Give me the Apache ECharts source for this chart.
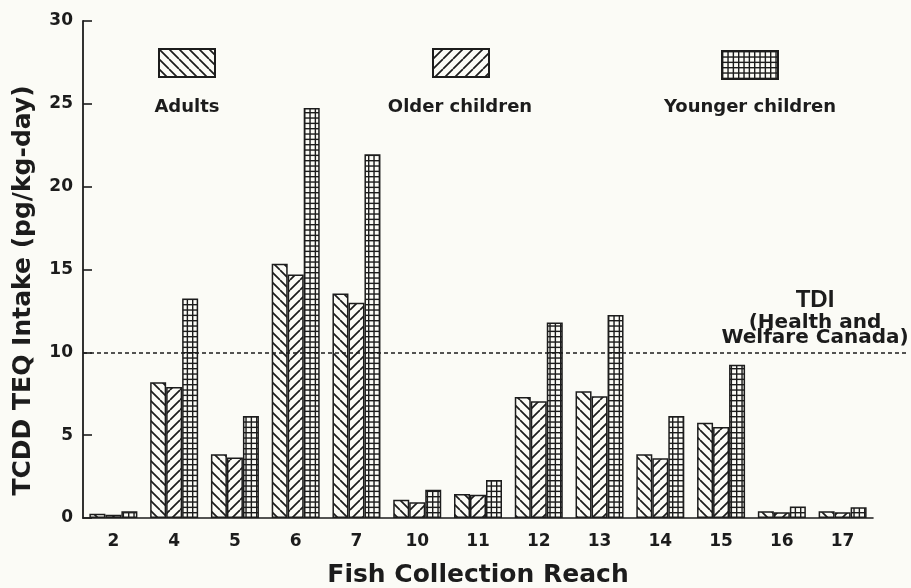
<!DOCTYPE html>
<html>
<head>
<meta charset="utf-8">
<script src="https://cdn.jsdelivr.net/npm/echarts@6/dist/echarts.min.js"></script>
<style>
  html, body { margin: 0; padding: 0; background: #fbfbf6; }
  #chart { width: 911px; height: 588px; }
</style>
</head>
<body>
<div id="chart"></div>
<script>
const reaches = ['2', '4', '5', '6', '7', '10', '11', '12', '13', '14', '15', '16', '17']
const adults = [0.25, 8.2, 3.85, 15.35, 13.55, 1.1, 1.45, 7.3, 7.65, 3.85, 5.75, 0.4, 0.4]
const olderChildren = [0.2, 7.9, 3.65, 14.7, 13.0, 0.95, 1.4, 7.05, 7.35, 3.6, 5.5, 0.35, 0.35]
const youngerChildren = [0.4, 13.25, 6.15, 24.75, 21.95, 1.7, 2.3, 11.8, 12.25, 6.15, 9.25, 0.7, 0.65]
const yMin = 0
const yMax = 30
const yStep = 5
const tdi = 10

const ink = '#1c1c1c'

// hatch fills: '\' for adults, '/' for older children, grid for younger children
function hatch(kind) {
  const c = document.createElement('canvas')
  const s = kind === 'grid' ? 16 : 10
  c.width = s
  c.height = s
  const g = c.getContext('2d')
  g.fillStyle = ink
  g.strokeStyle = ink
  if (kind === 'grid') {
    for (let i = 0; i < 3; i++) {
      const p = i * s / 3
      g.fillRect(p, 0, 1.4, s)
      g.fillRect(0, p, s, 1.4)
    }
    return { image: c, repeat: 'repeat' }
  }
  g.lineWidth = 1.7
  g.beginPath()
  for (let o = -s; o <= s; o += s) {
    if (kind === 'back') {
      g.moveTo(o, 0); g.lineTo(o + s, s)
    } else {
      g.moveTo(o + s, 0); g.lineTo(o, s)
    }
  }
  g.stroke()
  return { image: c, repeat: 'repeat' }
}

function barSeries(name, data, kind) {
  return {
    name: name,
    type: 'bar',
    data: data,
    barWidth: 16,
    barGap: '0%',
    itemStyle: { color: hatch(kind), borderColor: ink, borderWidth: 1.5 },
    emphasis: { disabled: true }
  }
}

function legendBox(name, left, top) {
  return {
    data: [name],
    left: left,
    top: top,
    padding: 0,
    itemWidth: 56,
    itemHeight: 28,
    icon: 'rect',
    selectedMode: false,
    formatter: function () { return '' }
  }
}

function legendText(text, x, y) {
  return {
    type: 'text',
    x: x,
    y: y,
    style: {
      text: text,
      font: 'bold 18px "DejaVu Sans"',
      fill: ink,
      textAlign: 'center',
      textVerticalAlign: 'middle',
      align: 'center',
      verticalAlign: 'middle'
    }
  }
}

const chart = echarts.init(document.getElementById('chart'))

chart.setOption({
  animation: false,
  backgroundColor: '#fbfbf6',
  grid: { left: 83, right: 38, top: 21, bottom: 70, containLabel: false, outerBoundsMode: 'none' },
  legend: [
    legendBox('Adults', 158, 48),
    legendBox('Older children', 432, 48),
    legendBox('Younger children', 721, 50)
  ],
  graphic: [
    legendText('Adults', 187, 107),
    legendText('Older children', 460, 107),
    legendText('Younger children', 750, 107)
  ],
  xAxis: {
    type: 'category',
    data: reaches,
    axisTick: { show: false },
    axisLine: { lineStyle: { color: ink, width: 1.6 } },
    axisLabel: {
      color: ink,
      fontFamily: 'DejaVu Sans',
      fontWeight: 'bold',
      fontSize: 17,
      margin: 15
    },
    name: 'Fish Collection Reach',
    nameLocation: 'middle',
    nameGap: 45,
    nameTextStyle: { color: ink, fontFamily: 'DejaVu Sans', fontWeight: 'bold', fontSize: 25 }
  },
  yAxis: {
    type: 'value',
    min: yMin,
    max: yMax,
    interval: yStep,
    splitLine: { show: false },
    axisLine: { show: true, lineStyle: { color: ink, width: 1.8 } },
    axisTick: { show: true, inside: true, length: 9, lineStyle: { color: ink, width: 1.6 } },
    axisLabel: {
      color: ink,
      fontFamily: 'DejaVu Sans',
      fontWeight: 'bold',
      fontSize: 17,
      margin: 10
    },
    name: 'TCDD TEQ Intake (pg/kg-day)',
    nameLocation: 'middle',
    nameGap: 47,
    nameTextStyle: {
      color: ink,
      fontFamily: 'DejaVu Sans',
      fontWeight: 'bold',
      fontSize: 25,
      padding: [0, 42, 0, 0]
    }
  },
  series: [
    barSeries('Adults', adults, 'back'),
    barSeries('Older children', olderChildren, 'fwd'),
    barSeries('Younger children', youngerChildren, 'grid')
  ]
})

// TDI reference line runs past the end of the x axis, so place it in pixels from the y scale
const tdiY = chart.convertToPixel({ yAxisIndex: 0 }, tdi)
chart.setOption({
  series: [{
    markLine: {
      silent: true,
      symbol: 'none',
      lineStyle: { color: ink, width: 1.5, type: [4, 3] },
      label: {
        show: true,
        position: 'insideEndTop',
        distance: [0, 7],
        color: ink,
        formatter: '{t|TDI}\n{h|(Health and}\n{h|Welfare Canada)}',
        rich: {
          t: { fontFamily: 'Liberation Sans', fontWeight: 'bold', fontSize: 24, lineHeight: 30, width: 186, align: 'center', color: ink },
          h: { fontFamily: 'DejaVu Sans', fontWeight: 'bold', fontSize: 20, lineHeight: 15, width: 186, align: 'center', color: ink }
        }
      },
      data: [[{ x: 83, y: tdiY }, { x: 908, y: tdiY }]]
    }
  }]
})
</script>
</body>
</html>
